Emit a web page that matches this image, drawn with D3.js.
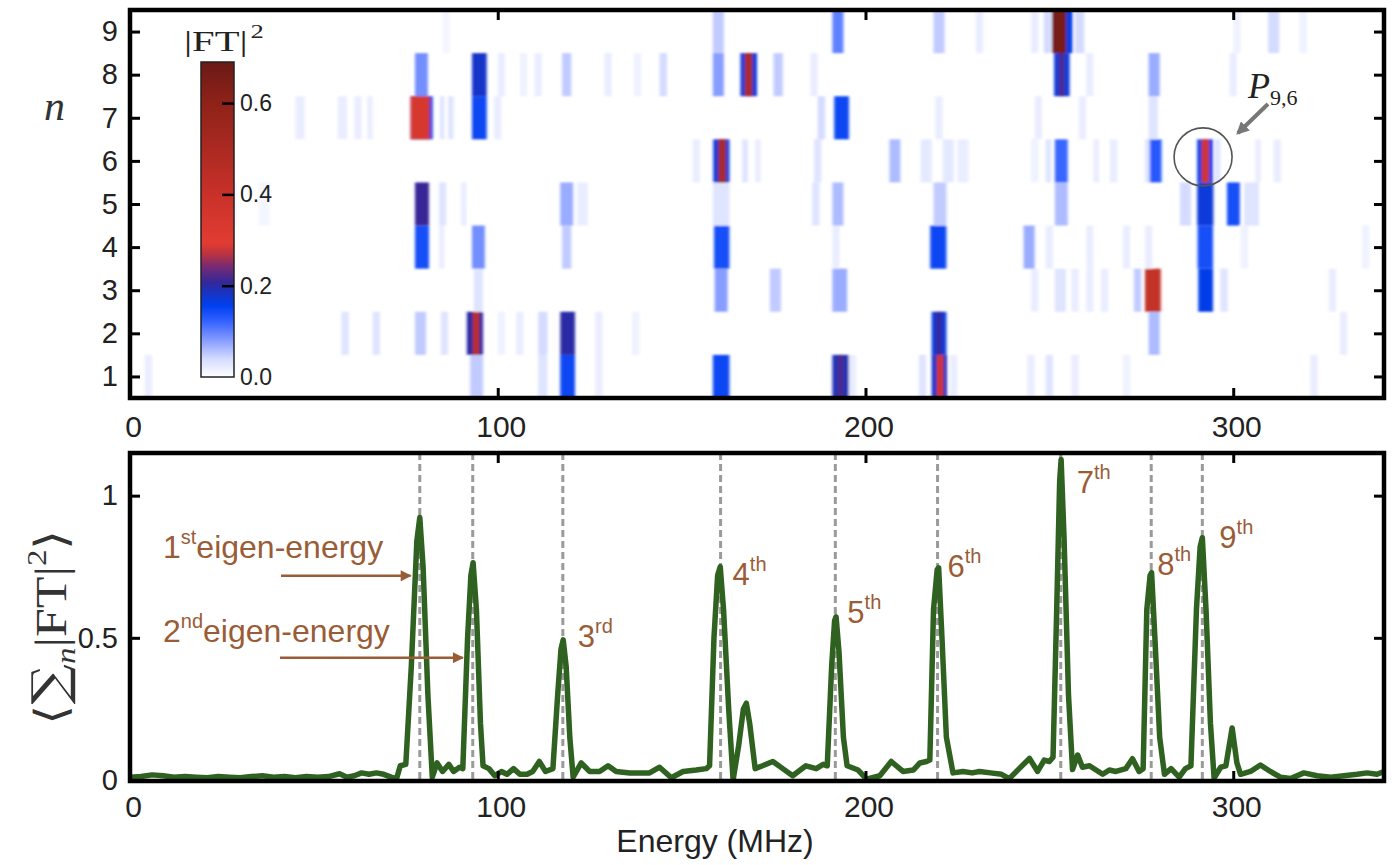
<!DOCTYPE html>
<html>
<head>
<meta charset="utf-8">
<script src="https://cdn.jsdelivr.net/npm/d3@7"></script>
<style>
body { margin: 0; background: #fff; }
svg { display: block; }
</style>
</head>
<body>
<script>
// ---- data ----
// heat map: each row n holds cells [E start, E end, |FT|^2]
const row1 = [[4,6,0.02],[92.5,96,0.05],[111,113.5,0.03],[117,121,0.15],[126.5,128.5,0.02],[158.5,163,0.15],
  [191,195.5,0.19],[192.5,194,0.22],[195.5,197.5,0.02],[214.5,216.5,0.03],[218,222.2,0.18],[219.4,221.2,0.36],
  [223,225,0.02],[244,246,0.02],[249,251,0.03],[256,258,0.02],[270,272,0.015],[321,323,0.02]]
const row2 = [[57.5,59.5,0.03],[66,68,0.03],[77.5,80.5,0.05],[84.5,86.5,0.03],[91.6,96,0.2],[93.2,95,0.45],
  [100,102,0.015],[105,107,0.02],[111,113.5,0.04],[117,121,0.2],[126.5,128.5,0.02],[136.5,138.5,0.015],
  [218,222,0.17],[219.3,220.7,0.21],[277,280,0.06],[329,331,0.02]]
const row3 = [[20,22,0.01],[93.5,96,0.03],[159,162.5,0.08],[174,177,0.05],[191,195,0.07],[245,247,0.02],
  [251.5,254.5,0.03],[256,258,0.02],[260,262,0.02],[264,266,0.02],[273,275,0.05],[276,280.3,0.42],
  [290.5,294.5,0.16],[296.5,298.5,0.03],[326,328,0.02]]
const row4 = [[77.5,81.3,0.14],[84,85.5,0.02],[93,96.5,0.09],[117.5,120,0.05],[158.8,163,0.14],[191,193,0.02],
  [217.6,222,0.15],[243,246,0.07],[249,251,0.02],[260,262,0.02],[270,272,0.02],[276,278,0.02],
  [290.3,294.5,0.14],[302,304,0.015],[335,337,0.015]]
const row5 = [[26,29,0.01],[35,38,0.01],[77.5,81.3,0.21],[84,86,0.03],[90,91.5,0.02],[117,120.5,0.07],
  [121.5,124.5,0.02],[158.5,163,0.03],[185.5,187.5,0.03],[191,194,0.06],[218.5,222,0.05],[251.5,255,0.06],
  [285.5,288.5,0.04],[290.2,294.6,0.17],[298.3,301.8,0.14],[303,307,0.03]]
const row6 = [[153,155,0.02],[158.6,163,0.17],[160,162,0.5],[166.5,168,0.03],[170,171.5,0.02],[186,188,0.03],
  [206.5,209.5,0.06],[215,218,0.025],[221,224,0.025],[225,228,0.02],[245,247,0.015],[249,250.5,0.03],
  [251.5,255,0.12],[262,263.5,0.02],[266.5,268.5,0.02],[276,277.5,0.03],[277.3,280.5,0.13],
  [290.2,294.5,0.16],[291.4,293.4,0.36],[295,296.5,0.03],[306,307.5,0.02],[311,313,0.02]]
const row7 = [[45,47.5,0.02],[56.5,59,0.02],[61,63,0.02],[64.5,66,0.02],[76.3,82.3,0.16],[76.3,81.5,0.34],
  [84.3,85.5,0.03],[86.5,88,0.03],[93,97,0.15],[99,101,0.02],[187,189,0.04],[191.5,195.5,0.15],
  [219,221,0.02],[246,248,0.02],[258,260,0.02],[277,279.5,0.03]]
const row8 = [[77.5,81,0.09],[93,97,0.18],[100,102,0.02],[106,108,0.015],[110,112,0.02],[117.5,120,0.05],
  [129,131,0.02],[137,139,0.015],[144,146,0.04],[158.5,161.5,0.08],[166,170.5,0.17],[167.2,169.2,0.5],
  [175,177.5,0.05],[185,187,0.02],[251.3,255.5,0.17],[252.6,254,0.22],[260,262,0.02],[277,280,0.07],[299,301,0.02]]
const row9 = [[85,87,0.01],[158.5,161.5,0.05],[191,194,0.1],[218.5,221.5,0.05],[230,232,0.02],[245,247,0.02],
  [248.5,250.5,0.04],[250.8,256.3,0.16],[250.8,254.6,0.66],[257,259.5,0.04],[300,302,0.015],
  [309.5,312.5,0.04],[318,320,0.015]]
const heatRows = [row1, row2, row3, row4, row5, row6, row7, row8, row9]

// colour map of |FT|^2
const cmapValues = [0, 0.04, 0.085, 0.127, 0.156, 0.185, 0.207, 0.243, 0.272, 0.294, 0.4, 0.6, 0.69]
const cmapColors = ["#ffffff", "#d4dbff", "#7d95ff", "#2a5cff", "#0040f0", "#1a33c0", "#33289a",
  "#7a2a72", "#c0343c", "#e23c32", "#c83129", "#8e2219", "#6b1a16"]

// <sum_n |FT|^2> versus energy, [E (MHz), value]
const spectrum = [
  [0,0.01],[3,0.012],[6,0.018],[9,0.015],[12,0.01],[15,0.012],[18,0.01],[21,0.008],[24,0.012],[27,0.01],
  [30,0.008],[33,0.012],[36,0.015],[39,0.01],[42,0.012],[45,0.008],[48,0.012],[51,0.01],[54,0.012],
  [57,0.022],[59,0.01],[61,0.015],[63,0.025],[65,0.02],[67,0.025],[69,0.02],[71,0.01],[72.5,0.005],
  [73.5,0.05],[75,0.055],[76.5,0.4],[78,0.84],[78.8,0.923],[79.7,0.75],[81,0.3],[82.2,0.01],[83.5,0.06],
  [85,0.03],[86.7,0.055],[88,0.03],[89.6,0.045],[90.5,0.04],[91.8,0.5],[92.7,0.72],[93.3,0.764],[94.2,0.6],
  [95.3,0.2],[96,0.05],[97.6,0.04],[99.2,0.015],[101,0.03],[102.5,0.02],[104.3,0.04],[106,0.02],[108,0.02],
  [109.5,0.03],[111.3,0.065],[113,0.03],[115,0.04],[116.3,0.3],[117.2,0.46],[117.8,0.493],[118.6,0.4],
  [119.6,0.15],[120.5,0.01],[122.7,0.06],[125,0.03],[127.7,0.03],[130,0.05],[132.2,0.03],[135.9,0.025],
  [138.5,0.025],[141.3,0.025],[144,0.045],[147.2,0.008],[150.4,0.03],[154,0.035],[156.7,0.04],[157.6,0.05],
  [158.8,0.5],[159.8,0.72],[160.5,0.75],[161.4,0.6],[162.8,0.25],[164,0.0],[165.5,0.12],[166.8,0.25],
  [167.6,0.27],[168.5,0.2],[170,0.04],[172,0.05],[174.8,0.065],[177.5,0.04],[180.2,0.015],[183.8,0.05],
  [186.6,0.04],[188.5,0.055],[189.6,0.05],[190.8,0.4],[191.6,0.56],[192,0.574],[192.8,0.45],[194,0.15],
  [195,0.05],[198,0.035],[200.3,0.003],[203.9,0.015],[207,0.065],[210.2,0.03],[213,0.035],[214.8,0.06],
  [216.6,0.065],[217.5,0.07],[218.5,0.6],[219.5,0.74],[219.9,0.746],[220.8,0.5],[222,0.15],[223.8,0.025],
  [226.5,0.03],[229,0.025],[231,0.03],[234,0.025],[237,0.02],[239.1,0.005],[241.8,0.04],[244.6,0.076],
  [246.8,0.03],[248.6,0.07],[250,0.065],[251,0.08],[252,0.6],[252.8,1.05],[253.2,1.127],[254,0.85],
  [255.2,0.3],[256.3,0.037],[257.7,0.088],[259,0.045],[260.9,0.05],[262.7,0.035],[264.5,0.02],[266.3,0.035],
  [268.1,0.03],[270.8,0.04],[272.6,0.075],[274.4,0.03],[275.5,0.04],[276.5,0.6],[277.4,0.72],[277.8,0.729],
  [278.7,0.5],[280,0.15],[281.3,0.02],[283.1,0.04],[285.3,0.01],[287,0.04],[288.5,0.05],[290,0.6],
  [291,0.82],[291.6,0.852],[292.6,0.6],[293.8,0.2],[294.8,0.007],[296.6,0.045],[298,0.05],[299.7,0.183],
  [301,0.06],[302,0.02],[304.7,0.03],[307.4,0.053],[310.1,0.03],[312.8,0.01],[315.6,0.005],[319.2,0.025],
  [322.8,0.015],[326.5,0.01],[330.1,0.015],[333.7,0.02],[336.4,0.025],[339.1,0.02],[341,0.03]]

// eigen-energies (dashed lines) and their labels
const eigenE = [78.8, 93.2, 117.7, 160.6, 191.8, 219.6, 253.1, 277.7, 291.6]
const ordinals = [["1","st"],["2","nd"],["3","rd"],["4","th"],["5","th"],["6","th"],["7","th"],["8","th"],["9","th"]]

const xTicks = [0, 100, 200, 300]
const nTicks = [1, 2, 3, 4, 5, 6, 7, 8, 9]
const sTicks = [0, 0.5, 1]
const cTicks = [0, 0.2, 0.4, 0.6]

// ---- layout ----
const W = 1395, H = 865
const L = 130, R = 1384
const top1 = 10, bot1 = 398
const top2 = 453, bot2 = 781
const brown = "#9a5c36"
const sans = "'Liberation Sans', Arial, sans-serif"
const serif = "'Liberation Serif', 'Times New Roman', serif"

const svg = d3.select("body").append("svg").attr("width", W).attr("height", H)
const defs = svg.append("defs")

const x = d3.scaleLinear().domain([0, 341]).range([L, R])
const yN = d3.scaleLinear().domain([0.5, 9.5]).range([bot1, top1])
const yS = d3.scaleLinear().domain([0, 1.15]).range([780, top2])
const color = d3.scaleLinear().domain(cmapValues).range(cmapColors).clamp(true)

defs.append("clipPath").attr("id", "clip1")
  .append("rect").attr("x", L).attr("y", top1).attr("width", R - L).attr("height", bot1 - top1)
defs.append("clipPath").attr("id", "clip2")
  .append("rect").attr("x", L).attr("y", top2).attr("width", R - L).attr("height", bot2 - top2)
// the printed map is slightly soft
defs.append("filter").attr("id", "soft").attr("x", -0.05).attr("y", -0.05).attr("width", 1.1).attr("height", 1.1)
  .append("feGaussianBlur").attr("stdDeviation", "1.6 0.8")

// ---- top panel: heat map ----
const cells = heatRows.flatMap((row, i) => row.map(c => ({n: i + 1, e0: c[0], e1: c[1], v: c[2]})))
svg.append("g").attr("clip-path", "url(#clip1)")
  .append("g").attr("filter", "url(#soft)")
  .selectAll("rect").data(cells).join("rect")
  .attr("x", d => x(d.e0))
  .attr("width", d => x(d.e1) - x(d.e0))
  .attr("y", d => yN(d.n + 0.5))
  .attr("height", d => yN(d.n - 0.5) - yN(d.n + 0.5))
  .attr("fill", d => color(d.v))

function styleAxis(g, size) {
  g.select(".domain").remove()
  g.selectAll(".tick line").attr("stroke", "#000").attr("stroke-width", 3)
  g.selectAll(".tick text").attr("fill", "#222").style("font-family", sans).style("font-size", size + "px")
}

function frameAxes(yScale, yTicks, yFmt, y0, y1, xPad) {
  svg.append("g").attr("transform", `translate(${L},0)`)
    .call(d3.axisLeft(yScale).tickValues(yTicks).tickFormat(yFmt).tickSizeInner(-10).tickSizeOuter(0).tickPadding(12))
    .call(g => styleAxis(g, 29))
  svg.append("g").attr("transform", `translate(${R},0)`)
    .call(d3.axisRight(yScale).tickValues(yTicks).tickFormat("").tickSizeInner(-10).tickSizeOuter(0))
    .call(g => styleAxis(g, 29))
  svg.append("g").attr("transform", `translate(0,${y1})`)
    .call(d3.axisBottom(x).tickValues(xTicks).tickFormat(d3.format("d")).tickSizeInner(-10).tickSizeOuter(0).tickPadding(xPad))
    .call(g => styleAxis(g, 30))
    .call(g => g.selectAll(".tick text").attr("x", 3))
  svg.append("g").attr("transform", `translate(0,${y0})`)
    .call(d3.axisTop(x).tickValues(xTicks).tickFormat("").tickSizeInner(-10).tickSizeOuter(0))
    .call(g => styleAxis(g, 30))
  svg.append("rect").attr("x", L).attr("y", y0).attr("width", R - L).attr("height", y1 - y0)
    .attr("fill", "none").attr("stroke", "#000").attr("stroke-width", 4.5)
}

frameAxes(yN, nTicks, d3.format("d"), top1, bot1, 18)

svg.append("text").attr("x", 44).attr("y", 120)
  .style("font-family", serif).style("font-style", "italic").style("font-size", "42px").attr("fill", "#333")
  .text("n")

// colour bar
const cbX = 201, cbW = 33
const cbScale = d3.scaleLinear().domain([0, 0.69]).range([377, 62])
const grad = defs.append("linearGradient").attr("id", "cbar")
  .attr("x1", 0).attr("y1", 1).attr("x2", 0).attr("y2", 0)
grad.selectAll("stop").data(cmapValues).join("stop")
  .attr("offset", d => d / 0.69)
  .attr("stop-color", d => color(d))
svg.append("rect").attr("x", cbX).attr("y", cbScale(0.69)).attr("width", cbW)
  .attr("height", cbScale(0) - cbScale(0.69))
  .attr("fill", "url(#cbar)").attr("stroke", "#222").attr("stroke-width", 1.5)
svg.append("g").attr("transform", `translate(${cbX + cbW},0)`)
  .call(d3.axisRight(cbScale).tickValues(cTicks).tickFormat(d3.format(".1f")).tickSizeInner(-12).tickSizeOuter(0).tickPadding(6))
  .call(g => styleAxis(g, 23))
  .call(g => g.selectAll(".tick line").attr("stroke-width", 2.5).filter(d => d === 0).remove())

// |FT|^2 title, widened like the printed serif
const ftLabel = svg.append("text").attr("transform", "translate(184,51) scale(1.4,1)")
  .style("font-family", serif).style("font-size", "29px").attr("fill", "#222")
ftLabel.append("tspan").text("|FT|")
ftLabel.append("tspan").attr("dy", -13).attr("dx", 2).style("font-size", "19px").text("2")

// P_{9,6} marker
const pE = 291.8, pN = 6
svg.append("circle").attr("cx", x(pE)).attr("cy", yN(pN) - 4).attr("r", 29)
  .attr("fill", "none").attr("stroke", "#555").attr("stroke-width", 1.6)
defs.append("marker").attr("id", "grayHead").attr("viewBox", "0 0 10 10").attr("refX", 8).attr("refY", 5)
  .attr("markerWidth", 3.2).attr("markerHeight", 3.2).attr("orient", "auto")
  .append("path").attr("d", "M0,0 L10,5 L0,10 z").attr("fill", "#777")
svg.append("line").attr("x1", 1268).attr("y1", 104).attr("x2", 1238).attr("y2", 133)
  .attr("stroke", "#777").attr("stroke-width", 4).attr("marker-end", "url(#grayHead)")
const pLabel = svg.append("text").attr("x", 1248).attr("y", 98)
  .style("font-family", serif).attr("fill", "#222")
pLabel.append("tspan").style("font-style", "italic").style("font-size", "36px").text("P")
pLabel.append("tspan").attr("dy", 7).style("font-size", "22px").text("9,6")

// ---- bottom panel: summed spectrum ----
const g2 = svg.append("g").attr("clip-path", "url(#clip2)")
g2.selectAll("line.eig").data(eigenE).join("line").attr("class", "eig")
  .attr("x1", d => x(d)).attr("x2", d => x(d))
  .attr("y1", top2).attr("y2", bot2)
  .attr("stroke", "#9a9a9a").attr("stroke-width", 3).attr("stroke-dasharray", "7,4")

g2.append("path").datum(spectrum)
  .attr("fill", "none").attr("stroke", "#2f6120").attr("stroke-width", 5.5)
  .attr("stroke-linejoin", "round")
  .attr("d", d3.line().x(d => x(d[0])).y(d => yS(d[1])))

frameAxes(yS, sTicks, d => d === 0.5 ? "0.5" : d3.format("d")(d), top2, bot2, 15)

svg.append("text").attr("x", 715).attr("y", 852).attr("text-anchor", "middle")
  .style("font-family", sans).style("font-size", "32px").attr("fill", "#222")
  .text("Energy (MHz)")

// rotated y label <sum_n |FT|^2>
const yl = svg.append("text").attr("transform", "translate(66,627) rotate(-90) scale(1.18,1)").attr("text-anchor", "middle")
  .style("font-family", serif).style("font-size", "44px").attr("fill", "#333")
yl.append("tspan").text("⟨")
yl.append("tspan").style("font-family", "'DejaVu Serif', serif").style("font-size", "48px").text("∑")
yl.append("tspan").attr("dy", 9).style("font-style", "italic").style("font-size", "28px").text("n")
yl.append("tspan").attr("dy", -9).text("|FT|")
yl.append("tspan").attr("dy", -20).style("font-size", "28px").text("2")
yl.append("tspan").attr("dy", 20).text("⟩")

// peak labels, anchored to each eigen-energy peak
const labelNudge = [null, null, [15, 7], [12, 18], [12, 6], [10, 9], [16, 33], [6, 2], [17, 10]]
const peakTop = eigenE.map(e => d3.max(spectrum.filter(p => Math.abs(p[0] - e) < 1.5), p => p[1]))
ordinals.forEach((o, i) => {
  if (!labelNudge[i]) return
  const t = svg.append("text")
    .attr("x", x(eigenE[i]) + labelNudge[i][0]).attr("y", yS(peakTop[i]) + labelNudge[i][1])
    .style("font-family", sans).style("font-size", "31px").attr("fill", brown)
  t.append("tspan").text(o[0])
  t.append("tspan").attr("dy", -14).style("font-size", "20px").text(o[1])
})

// 1st / 2nd eigen-energy call-outs with arrows
defs.append("marker").attr("id", "brownHead").attr("viewBox", "0 0 10 10").attr("refX", 9).attr("refY", 5)
  .attr("markerUnits", "userSpaceOnUse").attr("markerWidth", 14).attr("markerHeight", 11).attr("orient", "auto")
  .append("path").attr("d", "M0,0 L10,5 L0,10 z").attr("fill", brown)
const callouts = [
  {i: 0, tx: 163, ty: 558, ax0: 281, arrowV: 0.718, tipE: 76.3},
  {i: 1, tx: 163, ty: 642, ax0: 280, arrowV: 0.43, tipE: 90.5}
]
callouts.forEach(c => {
  const t = svg.append("text").attr("x", c.tx).attr("y", c.ty)
    .style("font-family", sans).style("font-size", "32px").attr("fill", brown)
  t.append("tspan").text(ordinals[c.i][0])
  t.append("tspan").attr("dy", -14).style("font-size", "20px").text(ordinals[c.i][1])
  t.append("tspan").attr("dy", 14).text("eigen-energy")
  svg.append("line").attr("x1", c.ax0).attr("x2", x(c.tipE)).attr("y1", yS(c.arrowV)).attr("y2", yS(c.arrowV))
    .attr("stroke", brown).attr("stroke-width", 2.5).attr("marker-end", "url(#brownHead)")
})
</script>
</body>
</html>
